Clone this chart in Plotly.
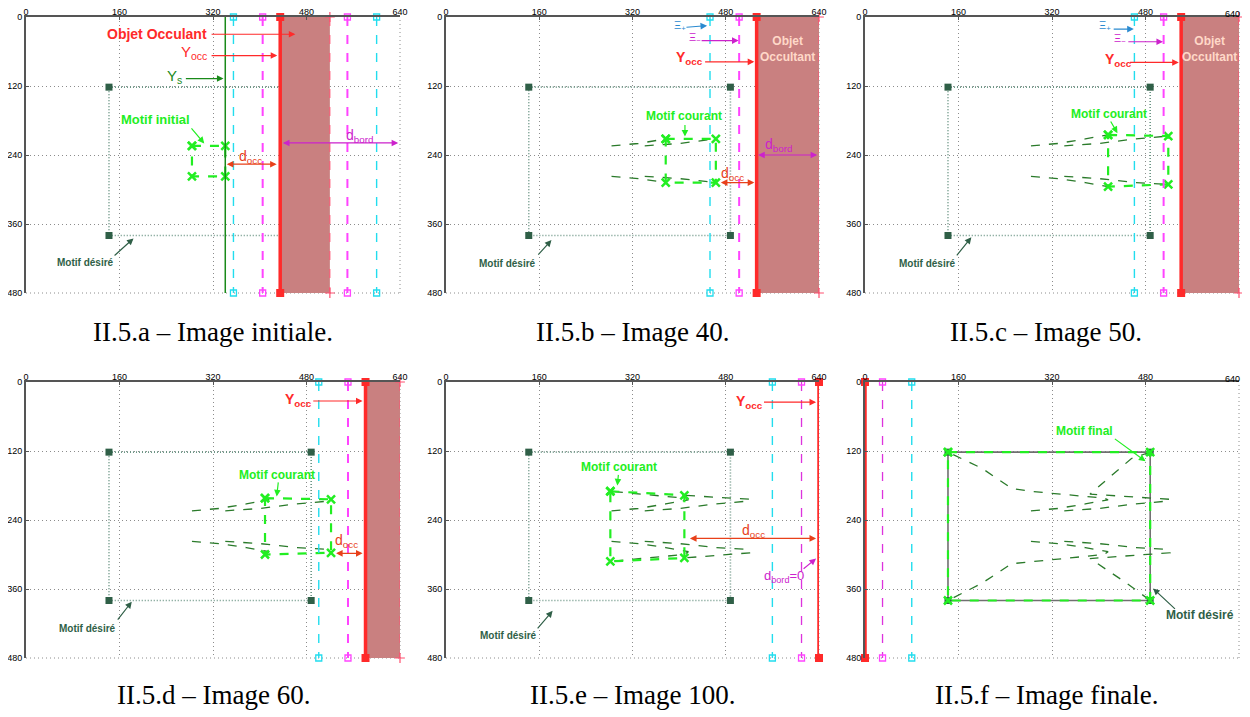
import plotly.graph_objects as go

# ---------------- data ----------------
X_TICKS = [0, 160, 320, 480, 640]
Y_TICKS = [0, 120, 240, 360, 480]

DESIRED_X = [142, 488, 488, 142]
DESIRED_Y = [122, 122, 380, 380]

# trajectories of the four image points (waypoints in image coordinates)
TL_X = [284, 330, 377, 416, 409, 282, 251, 200, 142]
TL_Y = [224, 220, 212, 205, 202, 190, 185, 150, 122]
TR_X = [341, 400, 463, 519, 522, 409, 385, 456, 488]
TR_Y = [224, 220, 212, 207, 204, 197, 195, 133, 122]
BL_X = [284, 330, 377, 416, 409, 282, 251, 200, 142]
BL_Y = [277, 281, 288, 295, 300, 312, 316, 350, 380]
BR_X = [341, 400, 463, 519, 522, 409, 385, 448, 488]
BR_Y = [277, 281, 288, 291, 297, 306, 307, 350, 380]

PANEL_FRAME = [0, 2, 3, 4, 5, 8]
RED_EDGE = [435, 533, 541, 581, 640, 0]
OCC_RIGHT = [520, 640, 640, 640, None, None]
MAGENTA_X = [[405, 550], [503], [511], [551], [610], [30]]
CYAN_X = [[355, 600], [453], [461], [501], [560], [80]]
YS_X = 341

CAPTIONS = ["II.5.a – Image initiale.", "II.5.b – Image 40.", "II.5.c – Image 50.",
            "II.5.d – Image 60.", "II.5.e – Image 100.", "II.5.f – Image finale."]

# ---------------- colours ----------------
C_GREEN = "#22ee22"
C_TRAJ = "#2a7a2a"
C_DES = "#2f5f47"
C_DESLINE = "#6a9484"
C_RED = "#ff2a2a"
C_OCC = "#c98080"
C_CYAN = "#22ddee"
C_MAG = "#ff44ff"
C_PURP = "#cc22cc"
C_DOCC = "#e8401a"
C_BLUE = "#2a8ad0"
C_GRID = "#8c8c8c"

# page pixel geometry (the html body adds an 8 px margin)
OFF = 8
COL_PX = [(26, 400), (446, 819), (865, 1239)]
ROW_PX = [(17, 293), (382, 658)]
CAP_Y = [332, 695]
W, H = 1250 - OFF, 717 - OFF

fig = go.Figure()
layout = dict(width=W, height=H, margin=dict(l=0, r=0, t=0, b=0, autoexpand=False),
              paper_bgcolor="white", plot_bgcolor="white", showlegend=False)
annotations = []
shapes = []
TICK_FONT = dict(family="Liberation Sans", size=9, color="black")

def axname(i):
    return ("x", "y") if i == 0 else (f"x{i+1}", f"y{i+1}")

for p in range(6):
    r, c = divmod(p, 3)
    x0, x1 = (v - OFF for v in COL_PX[c])
    y0, y1 = (v - OFF for v in ROW_PX[r])
    xa, ya = axname(p)
    xkey = "xaxis" if p == 0 else f"xaxis{p+1}"
    ykey = "yaxis" if p == 0 else f"yaxis{p+1}"
    common = dict(showgrid=True, gridcolor=C_GRID, griddash="1px,3px", gridwidth=1,
                  showline=True, linecolor="#555555", linewidth=2, zeroline=False,
                  ticks="inside", ticklen=3, tickcolor="#555555", automargin=False,
                  ticklabeloverflow="allow", tickfont=TICK_FONT, fixedrange=True)
    xtext = [str(v) for v in X_TICKS]
    if c == 2:
        # last label would be clipped at the page edge: drawn as an annotation instead
        xtext[-1] = ""
        annotations.append(dict(xref=xa, yref=ya, x=X_TICKS[-1], y=0, text=str(X_TICKS[-1]),
                                showarrow=False, font=TICK_FONT, xanchor="right",
                                yanchor="bottom", xshift=3, yshift=-4))
    layout[xkey] = dict(domain=[x0 / W, x1 / W], range=[0, 640], side="top",
                        tickvals=X_TICKS, ticktext=xtext, anchor=ya,
                        ticklabelstandoff=-4, **common)
    layout[ykey] = dict(domain=[1 - y1 / H, 1 - y0 / H], range=[480, 0],
                        tickvals=Y_TICKS, anchor=xa, **common)
    # dotted right & bottom frame (grid at the far range ends)
    shapes.append(dict(type="line", xref=f"{xa} domain", yref=f"{ya} domain",
                       x0=1, x1=1, y0=0, y1=1, layer="below",
                       line=dict(color=C_GRID, width=1, dash="1px,3px")))
    shapes.append(dict(type="line", xref=f"{xa} domain", yref=f"{ya} domain",
                       x0=0, x1=1, y0=0, y1=0, layer="below",
                       line=dict(color=C_GRID, width=1, dash="1px,3px")))

    k = PANEL_FRAME[p]
    # desired motif
    fig.add_trace(go.Scatter(
        x=DESIRED_X + [DESIRED_X[0]], y=DESIRED_Y + [DESIRED_Y[0]], xaxis=xa, yaxis=ya,
        mode="lines", line=dict(color="#707070" if p == 5 else C_DESLINE,
                                width=1.6, dash="solid" if p == 5 else "1px,2px"),
        hoverinfo="skip", cliponaxis=False))
    fig.add_trace(go.Scatter(
        x=DESIRED_X, y=DESIRED_Y, xaxis=xa, yaxis=ya, mode="markers",
        marker=dict(symbol="square", size=7, color=C_DES), hoverinfo="skip",
        cliponaxis=False))
    # trajectories
    if k > 0:
        for tx, ty in ((TL_X, TL_Y), (TR_X, TR_Y), (BL_X, BL_Y), (BR_X, BR_Y)):
            fig.add_trace(go.Scatter(
                x=tx[:k + 1], y=ty[:k + 1], xaxis=xa, yaxis=ya, mode="lines",
                line=dict(color=C_TRAJ, width=1.3, dash="dash"), hoverinfo="skip"))
    # current motif
    cx = [TL_X[k], TR_X[k], BR_X[k], BL_X[k], TL_X[k]]
    cy = [TL_Y[k], TR_Y[k], BR_Y[k], BL_Y[k], TL_Y[k]]
    fig.add_trace(go.Scatter(
        x=cx, y=cy, xaxis=xa, yaxis=ya, mode="lines+markers",
        line=dict(color=C_GREEN, width=2.2, dash="dash"),
        marker=dict(symbol="x-thin-open", size=8, line=dict(color=C_GREEN, width=2.5)),
        hoverinfo="skip", cliponaxis=False))
    # Y_s line (initial image only)
    if p == 0:
        fig.add_trace(go.Scatter(x=[YS_X, YS_X], y=[0, 480], xaxis=xa, yaxis=ya,
                                 mode="lines", line=dict(color="#1a8a1a", width=1.5),
                                 hoverinfo="skip"))
    # cyan & magenta limits
    for xv in CYAN_X[p]:
        fig.add_trace(go.Scatter(
            x=[xv, xv], y=[0, 480], xaxis=xa, yaxis=ya, mode="lines+markers",
            line=dict(color=C_CYAN, width=1.4, dash="dash"),
            marker=dict(symbol="square-open", size=6, color=C_CYAN, line=dict(width=1.3)),
            hoverinfo="skip", cliponaxis=False))
    for xv in MAGENTA_X[p]:
        fig.add_trace(go.Scatter(
            x=[xv, xv], y=[0, 480], xaxis=xa, yaxis=ya, mode="lines+markers",
            line=dict(color=C_MAG if p < 4 else "#dd33dd", width=2 if p < 4 else 1.3,
                      dash="dash"),
            marker=dict(symbol="square-open", size=6, color=C_MAG, line=dict(width=1.3)),
            hoverinfo="skip", cliponaxis=False))
    # occluding object
    if OCC_RIGHT[p] is not None:
        ox0, ox1 = RED_EDGE[p], OCC_RIGHT[p]
        fig.add_trace(go.Scatter(
            x=[ox0, ox1, ox1, ox0, ox0], y=[0, 0, 480, 480, 0], xaxis=xa, yaxis=ya,
            mode="lines", fill="toself", fillcolor=C_OCC, line=dict(width=0),
            hoverinfo="skip"))
        fig.add_trace(go.Scatter(
            x=[ox1, ox1], y=[0, 480], xaxis=xa, yaxis=ya, mode="lines+markers",
            line=dict(color="#ff5070", width=1, dash="dash"),
            marker=dict(symbol="cross-thin-open", size=7, line=dict(color="#ff6080", width=1.2)),
            hoverinfo="skip", cliponaxis=False))
    fig.add_trace(go.Scatter(
        x=[RED_EDGE[p], RED_EDGE[p]], y=[0, 480], xaxis=xa, yaxis=ya, mode="lines+markers",
        line=dict(color=C_RED, width=3.5),
        marker=dict(symbol="square", size=8, color=C_RED), hoverinfo="skip",
        cliponaxis=False))

    # caption
    annotations.append(dict(
        xref="paper", yref="paper", x=((x0 + x1) / 2 + (0 if c < 2 else -6)) / W,
        y=1 - (CAP_Y[r] - OFF) / H, text=CAPTIONS[p], showarrow=False,
        font=dict(family="Liberation Serif", size=27, color="black"),
        xanchor="center", yanchor="middle"))


def label(p, x, y, text, color, size, xanchor="center"):
    xa, ya = axname(p)
    annotations.append(dict(xref=xa, yref=ya, x=x, y=y, text=text, showarrow=False,
                            font=dict(family="Liberation Sans", size=size, color=color),
                            xanchor=xanchor, yanchor="middle"))


def arrow(p, xs, ys, xe, ye, color, double=False, width=1.2):
    xa, ya = axname(p)
    annotations.append(dict(xref=xa, yref=ya, axref=xa, ayref=ya, x=xe, y=ye, ax=xs, ay=ys,
                            text="", showarrow=True, arrowhead=2, arrowsize=1.1,
                            arrowwidth=width, arrowcolor=color, standoff=0, startstandoff=0,
                            startarrowhead=2, startarrowsize=1.1,
                            arrowside="end+start" if double else "end"))

# panel a
label(0, 314, 30, "<b>Objet Occulant</b>", C_RED, 14, "right")
arrow(0, 315, 30, 461, 30, C_RED)
label(0, 314, 62, "Y<sub>occ</sub>", C_RED, 15, "right")
arrow(0, 315, 67, 430, 67, C_RED)
label(0, 271, 103, "Y<sub>s</sub>", "#1a8a1a", 15, "right")
arrow(0, 271, 107, 338, 107, "#1a8a1a")
label(0, 221, 179, "<b>Motif initial</b>", C_GREEN, 13)
arrow(0, 281, 191, 305, 220, C_GREEN)
label(0, 385, 243, "d<sub>occ</sub>", C_DOCC, 14)
arrow(0, 341, 256, 429, 256, C_DOCC, True)
label(0, 571, 207, "d<sub>bord</sub>", C_PURP, 14)
arrow(0, 437, 219, 637, 219, C_PURP, True)
label(0, 101, 427, "<b>Motif désiré</b>", C_DES, 10)
arrow(0, 149, 417, 184, 385, C_DES)

# panel b
label(1, 402, 15, "Ξ<sub>+</sub>", C_BLUE, 11)
arrow(1, 410, 18, 448, 15, C_BLUE)
label(1, 427, 36, "Ξ<sub>−</sub>", C_PURP, 11)
arrow(1, 436, 41, 502, 41, C_PURP)
label(1, 418, 72, "<b>Y<sub>occ</sub></b>", C_RED, 14)
arrow(1, 442, 78, 529, 78, C_RED)
label(1, 586, 55, "<b>Objet<br>Occultant</b>", "#ffd8c8", 12)
label(1, 409, 172, "<b>Motif courant</b>", C_GREEN, 12)
arrow(1, 410, 185, 410, 208, C_GREEN)
label(1, 570, 222, "d<sub>bord</sub>", C_PURP, 14)
arrow(1, 533, 240, 637, 240, C_PURP, True)
label(1, 492, 273, "d<sub>occ</sub>", C_DOCC, 14)
arrow(1, 469, 288, 529, 288, C_DOCC, True)
label(1, 106, 428, "<b>Motif désiré</b>", C_DES, 10)
arrow(1, 156, 416, 181, 388, C_DES)

# panel c
label(2, 410, 15, "Ξ<sub>+</sub>", C_BLUE, 11)
arrow(2, 423, 21, 460, 21, C_BLUE)
label(2, 436, 38, "Ξ<sub>−</sub>", C_PURP, 11)
arrow(2, 448, 43, 510, 43, C_PURP)
label(2, 433, 74, "<b>Y<sub>occ</sub></b>", C_RED, 14)
arrow(2, 451, 79, 537, 79, C_RED)
label(2, 590, 55, "<b>Objet<br>Occultant</b>", "#ffd8c8", 12)
label(2, 418, 168, "<b>Motif courant</b>", C_GREEN, 12)
arrow(2, 419, 179, 432, 202, C_GREEN)
label(2, 107, 428, "<b>Motif désiré</b>", C_DES, 10)
arrow(2, 155, 417, 182, 383, C_DES)

# panel d
label(3, 467, 32, "<b>Y<sub>occ</sub></b>", C_RED, 14)
arrow(3, 489, 33, 576, 33, C_RED)
label(3, 429, 162, "<b>Motif courant</b>", C_GREEN, 12)
arrow(3, 432, 172, 429, 199, C_GREEN)
label(3, 549, 276, "d<sub>occ</sub>", C_DOCC, 14)
arrow(3, 528, 298, 576, 298, C_DOCC, True)
label(3, 105, 428, "<b>Motif désiré</b>", C_DES, 10)
arrow(3, 155, 416, 181, 382, C_DES)

# panel e
label(4, 520, 34, "<b>Y<sub>occ</sub></b>", C_RED, 14)
arrow(4, 543, 35, 635, 35, C_RED)
label(4, 296, 147, "<b>Motif courant</b>", C_GREEN, 12)
arrow(4, 296, 159, 294, 180, C_GREEN)
label(4, 527, 259, "d<sub>occ</sub>", C_DOCC, 14)
arrow(4, 416, 272, 635, 272, C_DOCC, True)
label(4, 580, 338, "d<sub>bord</sub>=0", C_PURP, 13)
arrow(4, 611, 327, 635, 307, C_PURP)
label(4, 108, 440, "<b>Motif désiré</b>", C_DES, 10)
arrow(4, 155, 431, 183, 398, C_DES)

# panel f
label(5, 376, 85, "<b>Motif final</b>", C_GREEN, 12)
arrow(5, 425, 97, 480, 138, C_GREEN)
label(5, 574, 406, "<b>Motif désiré</b>", C_DES, 12)
arrow(5, 533, 397, 493, 359, C_DES)

layout["annotations"] = annotations
layout["shapes"] = shapes
fig.update_layout(**layout)
fig.write_html("out.html")
